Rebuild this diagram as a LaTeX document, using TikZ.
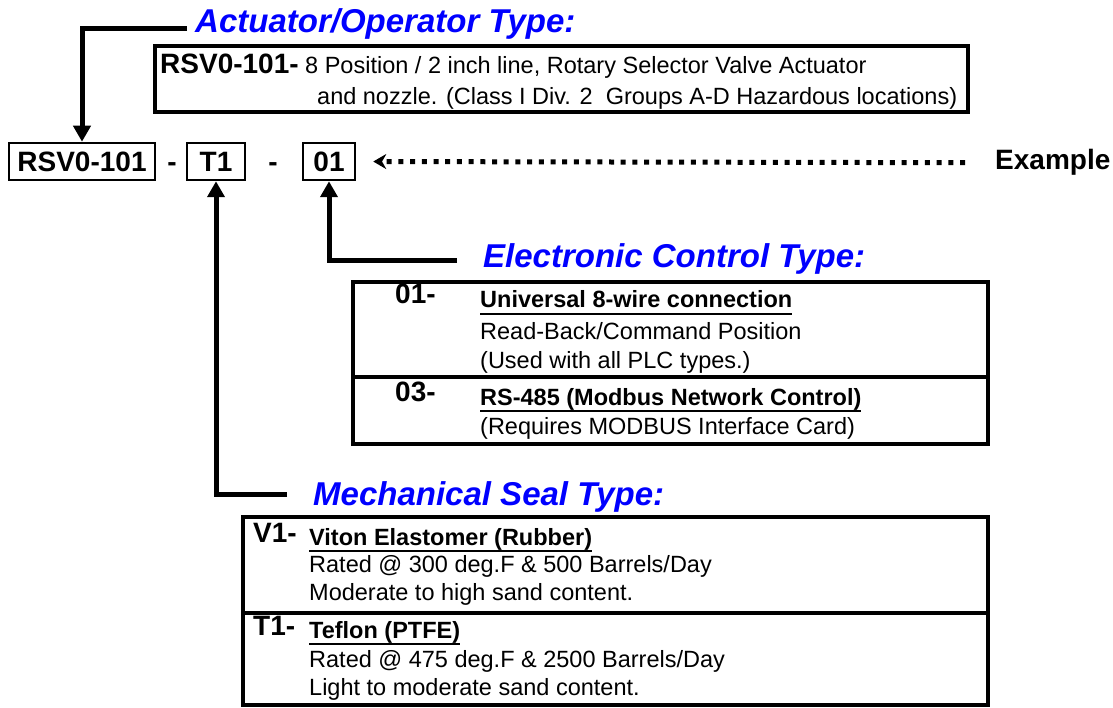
\documentclass[tikz,border=0pt]{standalone}
\usepackage{fontspec}
\setmainfont{Liberation Sans}
\usetikzlibrary{arrows.meta}

\newsavebox\ulbox
\newcommand\ulin[1]{\sbox\ulbox{#1}\rlap{\rule[-7pt]{\wd\ulbox}{2.2pt}}\usebox\ulbox}

\begin{document}
\begin{tikzpicture}[x=1pt,y=-1pt,
  code/.style={draw,line width=2.5pt,inner sep=0,minimum height=37pt,font=\fontsize{28}{30}\selectfont\bfseries},
  ttl/.style={anchor=base west,inner sep=0,text=blue,font=\fontsize{33}{36}\selectfont\bfseries\itshape},
  key/.style={anchor=base west,inner sep=0,font=\fontsize{28}{30}\selectfont\bfseries},
  txt/.style={anchor=base west,inner sep=0,font=\fontsize{23.5}{26}\selectfont},
  head/.style={txt,font=\fontsize{23.5}{26}\selectfont\bfseries},
  panel/.style={line width=4.5pt},
  lead/.style={line width=5pt,-{Triangle[length=16pt,width=17pt]}},
  dotline/.style={line width=5pt,dash pattern=on 5pt off 6.7pt,-{Stealth[length=13pt,width=15pt]}}]
\useasboundingbox (0,0) rectangle (1113,708);

\node[code,minimum width=146pt] (rsv) at (82,161.5) {RSV0-101};
\node[key,anchor=base] (dash1) at (172,172) {-};
\node[code,minimum width=58pt] (t1) at (216,161.5) {T1};
\node[key,anchor=base] (dash2) at (273,172) {-};
\node[code,minimum width=52pt] (cec) at (329,161.5) {01};
\node[key] (example) at (995,170) {Example};
\draw[dotline,shorten <=30pt,shorten >=17pt] (example.west) -- (cec.east);

\node[ttl] (acttitle) at (195,33) {Actuator/Operator Type:};
\coordinate (actlead) at (187,29);
\draw[lead] (actlead) -| (rsv.north);
\draw[panel] (155,46) rectangle (968,112);
\node[txt] (actline1) at (160,74) {{\fontsize{28}{30}\selectfont\bfseries RSV0-101-} 8 Position / 2 inch line, Rotary Selector Valve Actuator};
\node[txt] (actline2) at (317,105) {and nozzle. (Class I Div. 2\ \ Groups A-D Hazardous locations)};

\node[ttl] (ectitle) at (483,268) {Electronic Control Type:};
\coordinate (eclead) at (457,261);
\draw[lead] (eclead) -| (cec.south);
\draw[panel] (353,282) rectangle (988,444);
\draw[panel] (353,377) -- (988,377);
\node[key] (ec01) at (395,304) {01-};
\node[head] (ec01a) at (480,308) {\ulin{Universal 8-wire connection}};
\node[txt] (ec01b) at (480,340) {Read-Back/Command Position};
\node[txt] (ec01c) at (480,368) {(Used with all PLC types.)};
\node[key] (ec03) at (395,401) {03-};
\node[head] (ec03a) at (480,405) {\ulin{RS-485 (Modbus Network Control)}};
\node[txt] (ec03b) at (480,434) {(Requires MODBUS Interface Card)};

\node[ttl] (sealtitle) at (313,505) {Mechanical Seal Type:};
\coordinate (seallead) at (287,494);
\draw[lead] (seallead) -| (t1.south);
\draw[panel] (243,517) rectangle (988,705);
\draw[panel] (243,613) -- (988,613);
\node[key] (sealv1) at (253,542) {V1-};
\node[head] (sealv1a) at (309,545) {\ulin{Viton Elastomer (Rubber)}};
\node[txt] (sealv1b) at (309,572) {Rated @ 300 deg.F \& 500 Barrels/Day};
\node[txt] (sealv1c) at (309,600) {Moderate to high sand content.};
\node[key] (sealt1) at (253,635) {T1-};
\node[head] (sealt1a) at (309,638) {\ulin{Teflon (PTFE)}};
\node[txt] (sealt1b) at (309,667) {Rated @ 475 deg.F \& 2500 Barrels/Day};
\node[txt] (sealt1c) at (309,695) {Light to moderate sand content.};
\end{tikzpicture}
\end{document}
